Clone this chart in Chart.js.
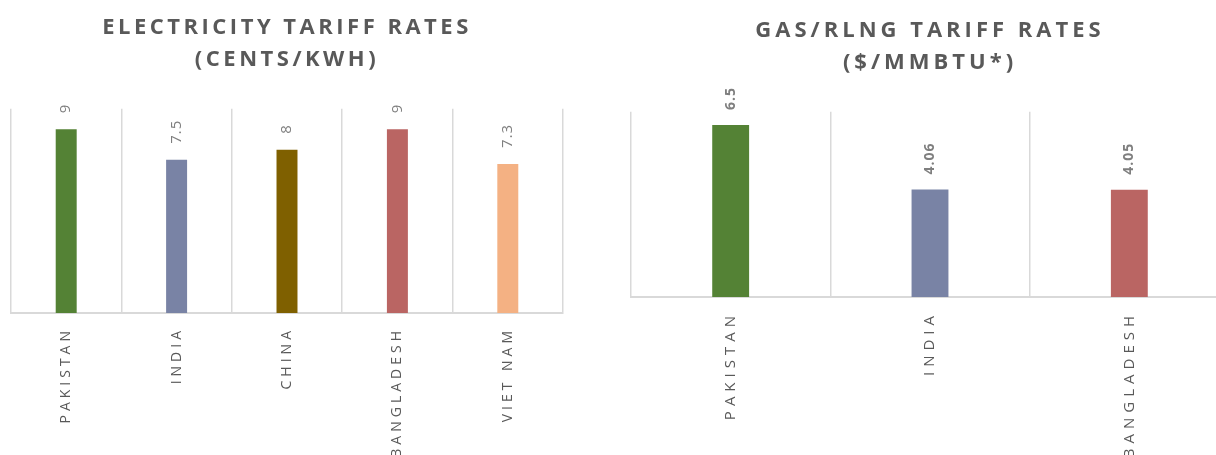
<!DOCTYPE html>
<html>
<head>
<meta charset="utf-8">
<script src="https://cdn.jsdelivr.net/npm/chart.js@4"></script>
<style>
  html, body { margin: 0; padding: 0; background: #fff; overflow: hidden; width: 1216px; height: 455px; }
  #left { position: absolute; left: 0; top: 0; width: 572px; height: 455px; }
  #right { position: absolute; left: 572px; top: 0; width: 712px; height: 455px; }
</style>
</head>
<body>
<div id="left"><canvas id="elec"></canvas></div>
<div id="right"><canvas id="gas"></canvas></div>
<script>
// electricity (cents/kWh)
const elecCountries = ["PAKISTAN", "INDIA", "CHINA", "BANGLADESH", "VIET NAM"];
const elecRates = [9, 7.5, 8, 9, 7.3];
const elecColors = ["#548235", "#7983a5", "#7f6000", "#ba6563", "#f4b183"];

// gas / RLNG ($/MMBTU)
const gasCountries = ["PAKISTAN", "INDIA", "BANGLADESH"];
const gasRates = [6.5, 4.06, 4.05];
const gasColors = ["#548235", "#7983a5", "#ba6563"];

// canvas has no letter-spacing option, so set it on the context.
// title is drawn before datasets, tick labels (z: 1) after them
const spacing = {
  id: "spacing",
  beforeUpdate(chart, args, opts) { chart.ctx.letterSpacing = opts.ticks + "px"; },
  beforeDraw(chart, args, opts) { chart.ctx.letterSpacing = opts.title + "px"; },
  afterDatasetsDraw(chart, args, opts) { chart.ctx.letterSpacing = opts.ticks + "px"; }
};

// rotated value labels above bars
const barLabels = {
  id: "barLabels",
  afterDatasetsDraw(chart, args, opts) {
    const ctx = chart.ctx;
    const values = chart.data.datasets[0].data;
    const keep = ctx.letterSpacing;
    ctx.save();
    ctx.letterSpacing = opts.spacing + "px";
    ctx.font = opts.font;
    ctx.fillStyle = opts.color;
    ctx.textAlign = "left";
    ctx.textBaseline = "middle";
    chart.getDatasetMeta(0).data.forEach((bar, i) => {
      ctx.save();
      ctx.translate(bar.x, bar.y - opts.gap);
      ctx.rotate(-Math.PI / 2);
      ctx.fillText(String(values[i]), 0, 0);
      ctx.restore();
    });
    ctx.restore();
    ctx.letterSpacing = keep;
  }
};

function makeChart(id, labels, values, colors, cfg) {
  return new Chart(document.getElementById(id), {
    type: "bar",
    data: {
      labels: labels,
      datasets: [{
        data: values,
        backgroundColor: colors,
        barPercentage: cfg.barPct,
        categoryPercentage: 1
      }]
    },
    plugins: [barLabels, spacing],
    options: {
      responsive: true,
      maintainAspectRatio: false,
      animation: false,
      layout: { padding: cfg.padding },
      plugins: {
        legend: { display: false },
        tooltip: { enabled: false },
        title: {
          display: true,
          text: cfg.title,
          color: "#595959",
          font: { family: "Open Sans", size: 22, weight: "bold", lineHeight: 1.45 },
          padding: cfg.titlePad
        },
        spacing: { title: cfg.titleSpacing, ticks: cfg.tickSpacing },
        barLabels: {
          font: cfg.labelFont,
          color: "#7f7f7f",
          spacing: 1,
          gap: cfg.gap
        }
      },
      scales: {
        x: {
          grid: { offset: true, color: "#d9d9d9", lineWidth: 1.5, drawTicks: false },
          border: { color: "#d9d9d9", width: 2 },
          ticks: {
            z: 1,
            color: "#595959",
            font: { family: "Open Sans", size: cfg.tickSize },
            minRotation: 90,
            maxRotation: 90,
            autoSkip: false,
            padding: 14
          },
          afterFit: (axis) => { axis.height = cfg.axisHeight; }
        },
        y: { display: false, min: 0, max: cfg.max }
      }
    }
  });
}

makeChart("elec", elecCountries, elecRates, elecColors, {
  title: ["ELECTRICITY TARIFF RATES", "(CENTS/KWH)"],
  titlePad: { top: 12, bottom: 33 },
  padding: { left: 11, right: 9, top: 0, bottom: 0 },
  barPct: 0.19,
  max: 10,
  titleSpacing: 3.5,
  tickSpacing: 4,
  tickSize: 14,
  axisHeight: 142,
  labelFont: "15px 'Open Sans'",
  gap: 16
});

makeChart("gas", gasCountries, gasRates, gasColors, {
  title: ["GAS/RLNG TARIFF RATES", "($/MMBTU*)"],
  titlePad: { top: 15, bottom: 33 },
  padding: { left: 59, right: 55, top: 0, bottom: 0 },
  barPct: 0.185,
  max: 7,
  titleSpacing: 4,
  tickSpacing: 5,
  tickSize: 15,
  axisHeight: 158,
  labelFont: "bold 14px 'Open Sans'",
  gap: 15
});
</script>
</body>
</html>
